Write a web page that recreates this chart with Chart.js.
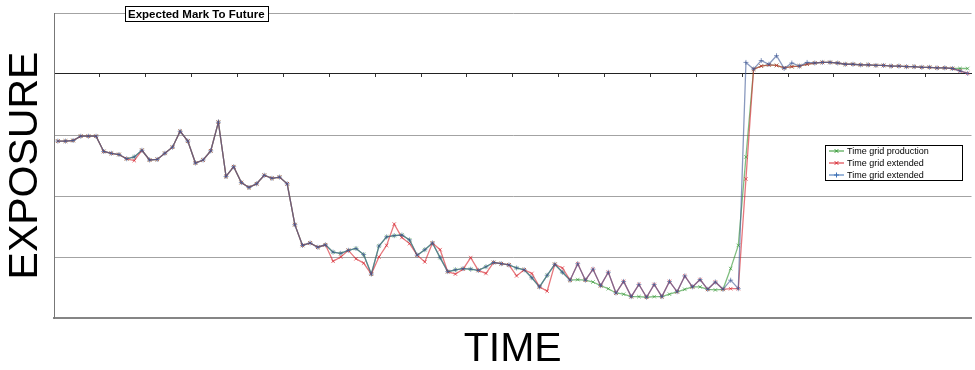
<!DOCTYPE html>
<html>
<head>
<meta charset="utf-8">
<title>Expected Mark To Future</title>
<script src="https://cdn.jsdelivr.net/npm/chart.js@4.4.1/dist/chart.umd.min.js"></script>
<style>
  html, body { margin: 0; padding: 0; background: #fff; }
  #wrap { width: 975px; height: 370px; }
</style>
</head>
<body>
<div id="wrap"><canvas id="exposure-chart" width="975" height="370"></canvas></div>
<script>
// time buckets along the horizontal axis
const steps = Array.from({ length: 120 }, (_, i) => i + 1);

const gridProduction = [
  -110, -110, -109, -102, -102, -102, -127, -130, -132, -139,
  -136, -125, -141, -140, -130, -120, -94, -110, -146, -141,
  -126, -79, -168, -152, -178, -186, -180, -166, -171, -169,
  -180, -247, -281, -277, -284, -280, -292, -294, -289, -286,
  -296, -328, -282, -267, -265, -264, -272, -297, -288, -277,
  -301, -324, -321, -319, -320, -322, -316, -309, -311, -313,
  -318, -321, -334, -349, -330, -312, -325, -338, -337, -338,
  -341, -347, -352, -359, -361, -365, -365, -366, -365, -365,
  -361, -357, -353, -349, -349, -353, -354, -353, -319, -281,
  -136, 8, 13, 15, 14, 10, 12, 13, 16, 18,
  19, 19, 18, 16, 16, 15, 15, 14, 14, 13,
  13, 12, 12, 11, 11, 10, 10, 9, 9, 9
];

const gridExtendedRed = [
  -110, -110, -109, -102, -102, -102, -127, -130, -132, -139,
  -142, -125, -141, -140, -130, -120, -94, -110, -146, -141,
  -126, -79, -168, -152, -178, -186, -180, -166, -171, -169,
  -180, -247, -281, -277, -284, -280, -307, -300, -289, -303,
  -310, -328, -300, -281, -246, -268, -278, -297, -308, -277,
  -288, -324, -328, -320, -301, -322, -327, -309, -311, -313,
  -331, -321, -327, -349, -356, -312, -318, -338, -311, -338,
  -320, -347, -325, -359, -340, -365, -345, -366, -345, -365,
  -340, -357, -331, -349, -337, -353, -341, -353, -352, -352,
  -172, 8, 13, 15, 14, 10, 12, 13, 16, 18,
  19, 19, 18, 16, 16, 15, 15, 14, 14, 13,
  13, 12, 12, 11, 11, 10, 10, 9, 5, 1
];

const gridExtendedBlue = [
  -110, -110, -109, -102, -102, -102, -127, -130, -132, -139,
  -136, -125, -141, -140, -130, -120, -94, -110, -146, -141,
  -126, -79, -168, -152, -178, -186, -180, -166, -171, -169,
  -180, -247, -281, -277, -284, -280, -292, -294, -289, -286,
  -296, -328, -282, -267, -265, -264, -272, -297, -288, -277,
  -301, -324, -321, -319, -320, -322, -316, -309, -311, -313,
  -318, -321, -334, -349, -330, -312, -325, -338, -311, -338,
  -320, -347, -325, -359, -340, -365, -345, -366, -345, -365,
  -340, -357, -331, -349, -337, -353, -341, -353, -338, -352,
  19, 8, 22, 16, 30, 9, 18, 13, 19, 18,
  19, 19, 18, 16, 16, 15, 15, 14, 14, 13,
  13, 12, 12, 11, 11, 10, 10, 9, 5, 1
];

const seriesNames = ['Time grid production', 'Time grid extended', 'Time grid extended'];
const yMin = -400, yMax = 100, yStep = 100;

const FONT = '"Liberation Sans", Arial, Helvetica, sans-serif';

// boxed heading sitting on the top edge of the plot
const titleBox = {
  id: 'titleBox',
  afterDraw(chart) {
    const { ctx, chartArea } = chart;
    const text = 'Expected Mark To Future';
    ctx.save();
    ctx.font = 'bold 11.5px ' + FONT;
    const w = Math.round(ctx.measureText(text).width) + 6;
    const h = 15;
    const x = chartArea.left + 71;
    const y = Math.round(chartArea.top) - 7;
    ctx.fillStyle = '#fff';
    ctx.fillRect(x, y, w, h);
    ctx.strokeStyle = '#000';
    ctx.lineWidth = 1;
    ctx.strokeRect(x + 0.5, y + 0.5, w, h);
    ctx.fillStyle = '#000';
    ctx.textBaseline = 'middle';
    ctx.fillText(text, x + 3, y + h / 2 + 1);
    ctx.restore();
  }
};

// framed legend inside the plot, right side
const boxLegend = {
  id: 'boxLegend',
  afterDraw(chart) {
    const { ctx, chartArea } = chart;
    const w = 137, h = 35;
    const x = Math.round(chartArea.right) - 147;
    const y = Math.round(chartArea.top) + 132;
    ctx.save();
    ctx.fillStyle = '#fff';
    ctx.fillRect(x, y, w, h);
    ctx.strokeStyle = '#000';
    ctx.lineWidth = 1;
    ctx.strokeRect(x + 0.5, y + 0.5, w, h);
    ctx.font = '9px ' + FONT;
    ctx.textBaseline = 'middle';
    chart.data.datasets.forEach((ds, i) => {
      const cy = y + 6 + i * 12;
      ctx.strokeStyle = ds.legendColor;
      ctx.lineWidth = 1;
      ctx.beginPath();
      ctx.moveTo(x + 4, cy);
      ctx.lineTo(x + 19, cy);
      ctx.stroke();
      Chart.helpers.drawPoint(ctx, { pointStyle: ds.pointStyle, radius: 2.5, borderWidth: 1 }, x + 11.5, cy);
      ctx.fillStyle = '#000';
      ctx.fillText(ds.label, x + 22, cy + 0.5);
    });
    ctx.restore();
  }
};

// translucent lines so overlapping series blend together
const line = (label, data, color, legendColor, style, order) => ({
  label,
  data,
  order,
  borderColor: color,
  backgroundColor: color,
  pointBorderColor: color,
  legendColor,
  borderWidth: 1.3,
  pointStyle: style,
  pointRadius: 2.5,
  pointBorderWidth: 1,
  pointHoverRadius: 2.5,
  tension: 0,
  fill: false
});

new Chart(document.getElementById('exposure-chart'), {
  type: 'line',
  data: {
    labels: steps,
    datasets: [
      line(seriesNames[0], gridProduction, 'rgba(50,150,50,0.62)', '#2f962f', 'crossRot', 3),
      line(seriesNames[1], gridExtendedRed, 'rgba(215,35,45,0.62)', '#d7232d', 'crossRot', 2),
      line(seriesNames[2], gridExtendedBlue, 'rgba(65,90,150,0.62)', '#3a6fb5', 'cross', 1)
    ]
  },
  plugins: [titleBox, boxLegend],
  options: {
    responsive: false,
    animation: false,
    devicePixelRatio: 1,
    layout: { padding: { top: 13, right: 0, bottom: 0, left: 0 } },
    plugins: {
      legend: { display: false },
      tooltip: { enabled: false }
    },
    scales: {
      x: {
        type: 'category',
        offset: true,
        grid: { display: false },
        border: { display: true, color: '#858585', width: 2 },
        ticks: { display: false },
        title: {
          display: true,
          text: 'TIME',
          color: '#000',
          font: { family: FONT, size: 41, lineHeight: 1 },
          padding: { top: 3, bottom: 0 }
        }
      },
      xAxis: {
        type: 'category',
        position: { y: 0 },
        offset: true,
        grid: {
          offset: true,
          drawOnChartArea: false,
          drawTicks: true,
          tickLength: 3,
          color: (c) => (c.index % 6 === 0 ? '#333' : 'rgba(0,0,0,0)')
        },
        border: { display: true, color: '#222', width: 1 },
        ticks: { display: false }
      },
      y: {
        min: yMin,
        max: yMax,
        ticks: { display: false, stepSize: yStep },
        grid: {
          drawTicks: false,
          color: (c) => (c.tick && c.tick.value === 0 ? '#222' : '#a3a3a3'),
          lineWidth: 1
        },
        border: { display: true, color: '#777', width: 1 },
        title: {
          display: true,
          text: 'EXPOSURE',
          color: '#000',
          font: { family: FONT, size: 41, lineHeight: 1 },
          padding: { top: 5.5, bottom: 7.5 }
        }
      }
    }
  }
});
</script>
</body>
</html>
